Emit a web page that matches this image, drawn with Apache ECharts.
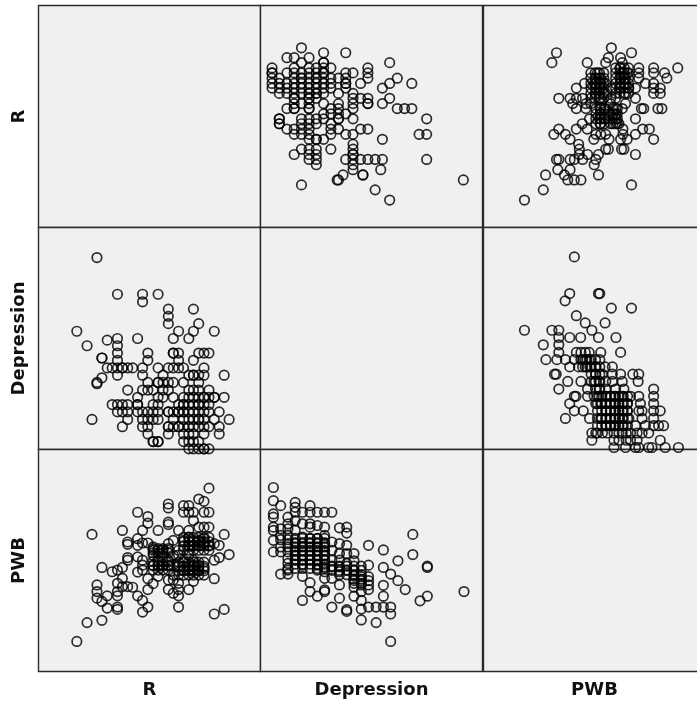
<!DOCTYPE html>
<html><head><meta charset="utf-8">
<style>html,body{margin:0;padding:0;background:#fff;overflow:hidden}#c{width:697px;height:706px}</style>
<script src="https://cdn.jsdelivr.net/npm/echarts@6/dist/echarts.min.js"></script>
</head><body><div id="c"></div>
<script>
const variables = ['R', 'Depression', 'PWB'];

// Each row: [value of the row variable, ...values of the column variable]
const rByDepression = [
 [577,124],[562,191,258],[547,80,102,147],[532,124,191,191,391],
 [516,35,102,147,169,191,213,325],[501,35,35,80,102,124,147,169,191,191,258,280,325],
 [485,35,57,102,124,124,147,169,169,191,213,236,258,325,414],
 [469,35,57,80,102,124,147,169,191,213,258,258,303,391,458],
 [455,35,57,80,102,124,147,169,191,213,258,369],
 [439,57,80,102,124,147,147,169,169,191,236,280],
 [424,102,102,147,147,169,280,303,325,391],
 [408,102,124,147,191,236,280,325,325,369],
 [393,80,102,102,147,147,213,236,280,414,436,458],
 [377,191,213,236,258],
 [362,57,57,124,147,169,191,236,236,280,503],
 [347,57,57,124,147,169,213],
 [331,80,102,124,147,213,236,303,325],
 [315,102,124,147,213,258,280,480,503],
 [300,147,169,169,191,369],[285,280],
 [270,124,147,169,213,280],[254,102,147,169,280,280],
 [239,147,169,258,280,303,325,347,369,503],[223,169,280],
 [208,280,364],[192,250,310,310],[177,232,236,614],[162,124],[147,347],[116,391]
];
const rByPwb = [
 [577,387],[562,221,448],[547,378,415],[532,207,314,370,420],
 [516,400,413,415,426,439,470,515,588],
 [501,325,338,345,351,364,400,413,420,426,435,439,470,515,548],
 [485,325,338,340,351,355,364,400,413,415,426,430,439,470,555],
 [469,306,325,338,340,351,355,364,370,400,413,415,426,430,439,490,515],
 [455,281,325,338,340,351,355,364,385,400,413,415,426,439,440,460,515,535],
 [439,325,338,340,351,364,370,400,413,426,430,439,515,535],
 [424,228,262,281,300,325,338,351,355,364,385,400,460],
 [408,270,310,325,355,385,430],
 [393,281,310,340,353,355,366,370,392,400,405,420,478,485,528,540],
 [377,340,353,355,366,385,392,400,405],
 [362,321,340,353,355,366,370,392,400,405,460],
 [347,299,340,353,355,366,385,392,400,405,410],
 [331,228,281,314,422,482,502],[315,213,248,340,355,370,422,460],
 [300,262,334,380,415,435,515],[285,288],
 [270,290,370,378,418,425],[254,290,315,348,460],
 [239,221,228,262,275,300,340],[223,335],[208,225,262],
 [192,188,245,348],[177,255,275,295],[162,448],[147,181],[116,124]
];
const depressionByPwb = [
 [616,275],[505,261,348,352],[483,247],[461,387,448],[438,281],[416,308,368],
 [394,124,207,228,328],[372,228,261,294,348,401],[350,181,228],
 [327,228,281,295,308,320,355,415],
 [305,189,222,248,275,295,300,308,313,320,326,339,352],
 [283,261,288,300,308,313,322,326,339,340,352,368,390],
 [261,215,220,326,339,340,352,360,390,415,452,470],
 [239,255,295,326,335,339,350,352,370,390,420,468],
 [216,228,315,339,350,352,370,400,425,515],
 [194,275,280,315,335,345,350,358,370,371,384,385,397,400,410,420,423,436,445,470,515],
 [172,261,340,345,355,358,370,371,384,385,397,400,410,420,423,435,436,475,515],
 [150,275,302,345,358,370,371,384,385,397,400,410,420,423,435,436,470,480,515,535],
 [127,248,321,345,355,358,370,371,384,385,397,400,410,420,423,436,440,480,515],
 [105,345,358,370,371,384,385,397,400,410,420,423,436,460,490,515,530,545],
 [83,328,340,345,360,375,395,410,420,432,445,465,480,500],
 [61,328,395,410,432,445,465,535],[39,395,430,460,470,500,510,550,590]
];

const panelLefts = [38.5, 260.5, 483.5];
const panelTops = [5.5, 227.5, 449.5];
const panelSize = 222;

const toPairs = rows => rows.flatMap(([v, ...cols]) => cols.map(c => [c, v]));
const swap = pairs => pairs.map(([a, b]) => [b, a]);

const panels = [
 {row: 0, col: 1, data: toPairs(rByDepression)},
 {row: 0, col: 2, data: toPairs(rByPwb)},
 {row: 1, col: 2, data: toPairs(depressionByPwb)},
 {row: 1, col: 0, data: swap(toPairs(rByDepression))},
 {row: 2, col: 0, data: swap(toPairs(rByPwb))},
 {row: 2, col: 1, data: swap(toPairs(depressionByPwb))}
];

const grid = [], xAxis = [], yAxis = [];
const nameStyle = {fontFamily: 'DejaVu Sans', fontWeight: 'bold', fontSize: 18, color: '#111'};
for (let r = 0; r < 3; r++) for (let c = 0; c < 3; c++) {
  grid.push({left: panelLefts[c], top: panelTops[r], width: panelSize, height: panelSize,
    show: true, backgroundColor: '#f0f0f0', borderColor: '#2b2b2b', borderWidth: 1.4,
    containLabel: false, outerBoundsMode: 'none'});
  xAxis.push({type: 'value', gridIndex: r * 3 + c, min: 0, max: 672,
    axisLine: {show: false}, axisTick: {show: false}, axisLabel: {show: false}, splitLine: {show: false},
    name: r === 2 ? variables[c] : '', nameLocation: 'middle', nameGap: 10, nameTextStyle: nameStyle});
  yAxis.push({type: 'value', gridIndex: r * 3 + c, min: 33, max: 705,
    axisLine: {show: false}, axisTick: {show: false}, axisLabel: {show: false}, splitLine: {show: false},
    name: c === 0 ? variables[r] : '', nameLocation: 'middle', nameGap: 10, nameRotate: 90, nameTextStyle: nameStyle});
}
const series = panels.map(p => ({
  type: 'scatter', xAxisIndex: p.row * 3 + p.col, yAxisIndex: p.row * 3 + p.col,
  data: p.data, symbol: 'circle', symbolSize: 9.5, clip: true, silent: true,
  itemStyle: {color: 'rgba(0,0,0,0)', borderColor: '#000', borderWidth: 1.7, opacity: 0.82}
}));
const chart = echarts.init(document.getElementById('c'), null, {renderer: 'canvas'});
chart.setOption({animation: false, backgroundColor: '#fff', grid, xAxis, yAxis, series, tooltip: {show: false}});
</script></body></html>
